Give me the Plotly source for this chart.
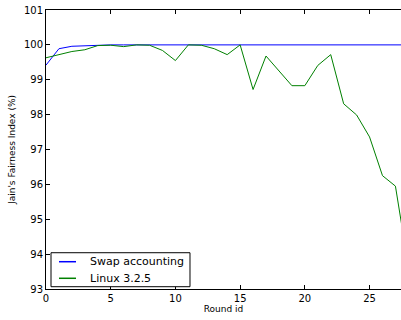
import plotly.graph_objects as go

rounds = list(range(0, 29))
swap_accounting = [99.42, 99.89, 99.96, 99.98, 99.99, 100.0, 100.0, 100.0, 100.0, 100.0,
                   100.0, 100.0, 100.0, 100.0, 100.0, 100.0, 100.0, 100.0, 100.0, 100.0,
                   100.0, 100.0, 100.0, 100.0, 100.0, 100.0, 100.0, 100.0, 100.0]
linux_325 = [99.63, 99.72, 99.81, 99.86, 99.98, 99.99, 99.95, 100.0, 99.99, 99.84,
             99.55, 100.0, 99.99, 99.89, 99.72, 100.0, 98.72, 99.68, 99.26, 98.83,
             98.83, 99.41, 99.72, 98.31, 97.99, 97.36, 96.25, 95.95, 93.65]
series_names = ["Swap accounting", "Linux 3.2.5"]
series_colors = ["#0000ff", "#008000"]
y_ticks = [93, 94, 95, 96, 97, 98, 99, 100, 101]
x_ticks = [0, 5, 10, 15, 20, 25]

fig = go.Figure()
for vals, name, color in zip([swap_accounting, linux_325], series_names, series_colors):
    fig.add_trace(go.Scatter(x=rounds, y=vals, mode="lines", name=name,
                             line=dict(color=color, width=1), showlegend=False))

font = "DejaVu Sans, sans-serif"

# compact matplotlib-style legend box in paper coordinates
shapes = [dict(type="rect", xref="paper", yref="paper", x0=0.0141, x1=0.4056,
               y0=0.0082, y1=0.130, line=dict(color="black", width=1),
               fillcolor="white", layer="above")]
annotations = []
row_y = [0.0978, 0.0384]
for name, color, yy in zip(series_names, series_colors, row_y):
    shapes.append(dict(type="line", xref="paper", yref="paper", x0=0.0366, x1=0.0845,
                       y0=yy, y1=yy, line=dict(color=color, width=1.5), layer="above"))
    annotations.append(dict(xref="paper", yref="paper", x=0.118, y=yy, text=name,
                            showarrow=False, xanchor="left", yanchor="middle",
                            font=dict(family=font, size=11, color="black")))

fig.update_layout(
    width=401, height=320,
    margin=dict(l=46, r=0, t=10, b=31, autoexpand=False),
    plot_bgcolor="white", paper_bgcolor="white",
    font=dict(family=font, size=10, color="black"),
    showlegend=False,
    shapes=shapes, annotations=annotations,
    xaxis=dict(range=[0, 27.43], tickvals=x_ticks, ticks="inside", ticklen=4,
               tickcolor="black", showline=True, linecolor="black", linewidth=1,
               mirror="ticks", showgrid=False, zeroline=False, automargin=False,
               title=dict(text="Round id", font=dict(size=9), standoff=0),
               tickfont=dict(size=10)),
    yaxis=dict(range=[93, 101], tickvals=y_ticks, ticks="inside", ticklen=4,
               tickcolor="black", showline=True, linecolor="black", linewidth=1,
               showgrid=False, zeroline=False, automargin=False,
               title=dict(text="Jain's Fairness Index (%)", font=dict(size=9), standoff=6),
               tickfont=dict(size=10)),
)
fig.write_html("out.html", config={"displayModeBar": False},
               post_script="document.body.style.margin='0';document.body.style.overflow='hidden';")
